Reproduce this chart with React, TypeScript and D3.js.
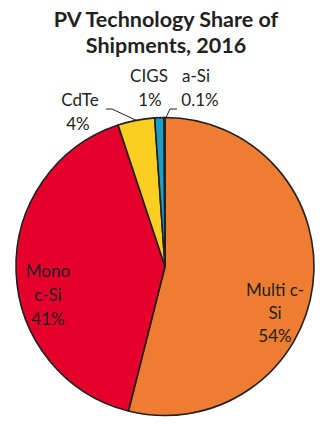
import React from "react";
import * as d3 from "d3";

const categories = ["Multi c-Si", "Mono c-Si", "CdTe", "CIGS", "a-Si"];
const shares = [54, 41, 4, 1, 0.1];
const shareLabels = ["54%", "41%", "4%", "1%", "0.1%"];
const colors = ["#EE7D31", "#E4002B", "#F9CF22", "#1A9FC9", "#111111"];
const titleLines = ["PV Technology Share of", "Shipments, 2016"];

const W = 327;
const H = 429;
const cx = 165;
const cy = 266.5;
const R = 149;
const ink = "#231F20";
const font = "Lato, 'Open Sans', sans-serif";

export default function App() {
  const data = categories.map((c, i) => ({ c, v: shares[i], color: colors[i], lab: shareLabels[i] }));
  const pie = d3.pie<any>().value((d) => d.v).sort(null).startAngle(0).endAngle(2 * Math.PI);
  const arcs = pie(data);
  const arc = d3.arc<any>().innerRadius(0).outerRadius(R);
  const edge = (a: any) => {
    const m = (a.startAngle + a.endAngle) / 2;
    return [cx + R * Math.sin(m), cy - R * Math.cos(m)];
  };
  const cd = edge(arcs[2]);
  const as = edge(arcs[4]);
  const fs = 17;
  return (
    <svg width={W} height={H} style={{ position: "absolute", left: 0, top: 0 }}>
      <rect width={W} height={H} fill="#fff" />
      <g fontFamily={font} fill={ink} textAnchor="middle">
        <text x={166} y={27} fontSize={21.5} fontWeight={700}>{titleLines[0]}</text>
        <text x={166} y={53} fontSize={21.5} fontWeight={700}>{titleLines[1]}</text>
      </g>
      <g transform={`translate(${cx},${cy})`}>
        {arcs.map((a, i) => (
          <path key={i} d={arc(a) as string} fill={a.data.color} stroke={ink} strokeWidth={1.6} strokeLinejoin="round" />
        ))}
      </g>
      <g fill="none" stroke={ink} strokeWidth={1}>
        <polyline points={`${cd[0]},${cd[1]} 112,109 106,109`} />
        <polyline points={`${as[0] + 1},${as[1] + 1} 170,109 177,109`} />
      </g>
      <g fontFamily={font} fill={ink} fontSize={fs} textAnchor="middle">
        <text x={275} y={296}>Multi c-</text>
        <text x={275} y={319}>Si</text>
        <text x={275} y={342}>{data[0].lab}</text>
        <text x={48} y={277}>Mono</text>
        <text x={48} y={301}>c-Si</text>
        <text x={48} y={325}>{data[1].lab}</text>
        <text x={80} y={106}>{data[2].c}</text>
        <text x={78} y={130}>{data[2].lab}</text>
        <text x={149} y={82}>{data[3].c}</text>
        <text x={150} y={106}>{data[3].lab}</text>
        <text x={196} y={82}>{data[4].c}</text>
        <text x={200} y={106}>{data[4].lab}</text>
      </g>
    </svg>
  );
}
